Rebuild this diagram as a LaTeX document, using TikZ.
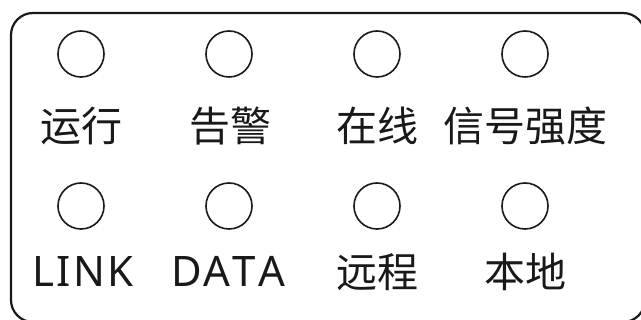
\documentclass[tikz,border=0pt]{standalone}
\usepackage{fontspec}
\setmainfont{Noto Sans CJK SC}
\newfontfamily\latinlbl[Kerning=Off,LetterSpace=5]{Noto Sans}
\begin{document}
\begin{tikzpicture}[x=1pt,y=-1pt,
  led/.style={draw=black!90,line width=1.6pt,circle,minimum size=46pt,inner sep=0pt},
  lbl/.style={font=\fontsize{41}{41}\selectfont,inner sep=0pt,text=black!90},
  latlbl/.style={font=\fontsize{42}{42}\selectfont\latinlbl,inner sep=0pt,text=black!90}]
\useasboundingbox (0,0) rectangle (641,320);
\clip (0,0) rectangle (641,320);
\draw[line width=2.2pt,black!90,rounded corners=22pt] (11,13) rectangle (645,322);
\node[led] (c1) at (81,54) {};
\node[led] (c2) at (229,54) {};
\node[led] (c3) at (377,54) {};
\node[led] (c4) at (525,54) {};
\node[led] (c5) at (81,206) {};
\node[led] (c6) at (229,206) {};
\node[led] (c7) at (377,206) {};
\node[led] (c8) at (525,206) {};
\node[lbl] (t1) at (82,126) {运行};
\node[lbl] (t2) at (230,126) {告警};
\node[lbl] (t3) at (377,126) {在线};
\node[lbl] (t4) at (525,126) {信号强度};
\node[latlbl,anchor=base] (t5) at (83,287) {LINK};
\node[latlbl,anchor=base] (t6) at (228,287) {DATA};
\node[lbl] (t7) at (377,272) {远程};
\node[lbl] (t8) at (525,272) {本地};
\end{tikzpicture}
\end{document}
